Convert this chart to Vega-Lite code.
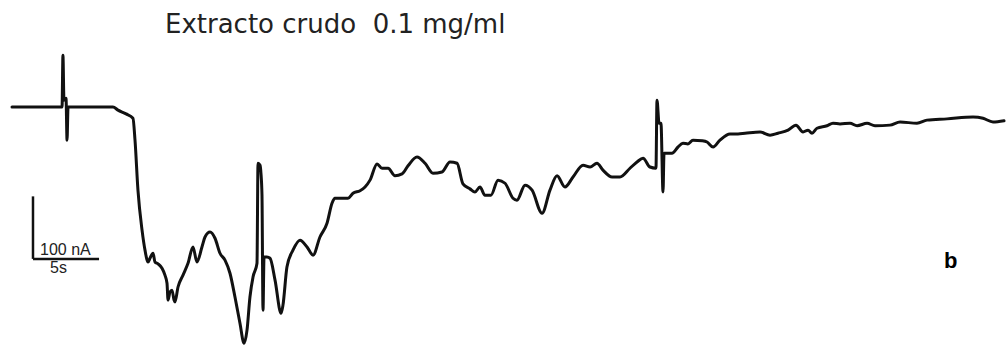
{
  "$schema": "https://vega.github.io/schema/vega-lite/v6.json",
  "width": 1006,
  "height": 347,
  "autosize": {"type": "fit", "contains": "padding"},
  "padding": 0,
  "background": "white",
  "config": {"view": {"stroke": null}},
  "datasets": {
    "trace": [
      {"t": 0, "i": 0}, {"t": 3.91, "i": 0}, {"t": 3.98, "i": 83}, {"t": 4.06, "i": 11}, {"t": 4.22, "i": 14},
      {"t": 4.3, "i": -53}, {"t": 4.38, "i": 0}, {"t": 7.89, "i": 0}, {"t": 8.28, "i": -5}, {"t": 8.91, "i": -11},
      {"t": 9.45, "i": -18}, {"t": 9.61, "i": -53}, {"t": 9.84, "i": -133}, {"t": 10.16, "i": -197}, {"t": 10.39, "i": -229},
      {"t": 10.63, "i": -248}, {"t": 10.78, "i": -242}, {"t": 11.02, "i": -234}, {"t": 11.17, "i": -248}, {"t": 11.41, "i": -251},
      {"t": 11.72, "i": -258}, {"t": 11.95, "i": -269}, {"t": 12.11, "i": -282}, {"t": 12.19, "i": -309}, {"t": 12.34, "i": -296},
      {"t": 12.5, "i": -293}, {"t": 12.66, "i": -309}, {"t": 12.73, "i": -312}, {"t": 12.97, "i": -288}, {"t": 13.36, "i": -269},
      {"t": 13.75, "i": -250}, {"t": 14.14, "i": -224}, {"t": 14.45, "i": -248}, {"t": 14.84, "i": -224}, {"t": 15.08, "i": -208},
      {"t": 15.47, "i": -200}, {"t": 15.86, "i": -210}, {"t": 16.25, "i": -234}, {"t": 16.64, "i": -245}, {"t": 17.03, "i": -266},
      {"t": 17.42, "i": -304}, {"t": 17.81, "i": -346}, {"t": 18.13, "i": -378}, {"t": 18.36, "i": -357}, {"t": 18.59, "i": -304},
      {"t": 18.83, "i": -272}, {"t": 19.14, "i": -250}, {"t": 19.22, "i": -90}, {"t": 19.38, "i": -93}, {"t": 19.45, "i": -106},
      {"t": 19.53, "i": -141}, {"t": 19.61, "i": -325}, {"t": 19.69, "i": -240}, {"t": 19.92, "i": -240}, {"t": 20.16, "i": -242},
      {"t": 20.55, "i": -277}, {"t": 21.02, "i": -330}, {"t": 21.17, "i": -317}, {"t": 21.48, "i": -256}, {"t": 21.95, "i": -229},
      {"t": 22.5, "i": -213}, {"t": 23.05, "i": -224}, {"t": 23.52, "i": -237}, {"t": 24.06, "i": -208}, {"t": 24.61, "i": -186},
      {"t": 25.0, "i": -154}, {"t": 25.23, "i": -146}, {"t": 25.78, "i": -146}, {"t": 26.25, "i": -146}, {"t": 26.64, "i": -138},
      {"t": 27.19, "i": -134}, {"t": 27.58, "i": -128}, {"t": 27.97, "i": -117}, {"t": 28.52, "i": -91}, {"t": 28.91, "i": -98},
      {"t": 29.38, "i": -98}, {"t": 29.92, "i": -110}, {"t": 30.47, "i": -107}, {"t": 30.94, "i": -94}, {"t": 31.64, "i": -80},
      {"t": 32.27, "i": -90}, {"t": 32.89, "i": -106}, {"t": 33.59, "i": -104}, {"t": 34.22, "i": -88}, {"t": 34.77, "i": -90},
      {"t": 35.23, "i": -123}, {"t": 35.78, "i": -131}, {"t": 36.17, "i": -136}, {"t": 36.56, "i": -128}, {"t": 36.95, "i": -141},
      {"t": 37.42, "i": -141}, {"t": 37.97, "i": -117}, {"t": 38.52, "i": -122}, {"t": 39.14, "i": -146}, {"t": 39.45, "i": -149},
      {"t": 40.08, "i": -125}, {"t": 40.63, "i": -133}, {"t": 41.41, "i": -170}, {"t": 42.03, "i": -133}, {"t": 42.58, "i": -110},
      {"t": 43.2, "i": -128}, {"t": 43.83, "i": -112}, {"t": 44.61, "i": -93}, {"t": 45.16, "i": -96}, {"t": 45.7, "i": -90},
      {"t": 46.17, "i": -101}, {"t": 46.88, "i": -112}, {"t": 47.5, "i": -112}, {"t": 48.28, "i": -98}, {"t": 48.83, "i": -88},
      {"t": 49.3, "i": -82}, {"t": 49.84, "i": -96}, {"t": 50.31, "i": -98}, {"t": 50.39, "i": 11}, {"t": 50.55, "i": -26},
      {"t": 50.7, "i": -26}, {"t": 50.86, "i": -136}, {"t": 50.94, "i": -74}, {"t": 51.56, "i": -74}, {"t": 52.03, "i": -64},
      {"t": 52.42, "i": -58}, {"t": 52.81, "i": -59}, {"t": 53.2, "i": -53}, {"t": 53.91, "i": -54}, {"t": 54.3, "i": -56},
      {"t": 54.77, "i": -64}, {"t": 55.31, "i": -53}, {"t": 56.09, "i": -43}, {"t": 56.72, "i": -43}, {"t": 57.27, "i": -42},
      {"t": 58.44, "i": -40}, {"t": 59.22, "i": -45}, {"t": 59.84, "i": -42}, {"t": 60.63, "i": -37}, {"t": 61.25, "i": -29},
      {"t": 61.8, "i": -40}, {"t": 62.19, "i": -37}, {"t": 62.5, "i": -42}, {"t": 62.89, "i": -34}, {"t": 63.67, "i": -30},
      {"t": 64.14, "i": -26}, {"t": 64.69, "i": -27}, {"t": 65.47, "i": -26}, {"t": 66.02, "i": -30}, {"t": 66.8, "i": -26},
      {"t": 67.42, "i": -30}, {"t": 68.59, "i": -29}, {"t": 69.38, "i": -24}, {"t": 70.7, "i": -26}, {"t": 71.48, "i": -21},
      {"t": 73.05, "i": -19}, {"t": 75.08, "i": -16}, {"t": 75.86, "i": -18}, {"t": 76.64, "i": -24}, {"t": 77.5, "i": -22}
    ],
    "scalebar": [
      {"t": 1.64, "t2": 1.64, "i": -143, "i2": -243},
      {"t": 1.64, "t2": 6.8, "i": -243, "i2": -243}
    ]
  },
  "encoding": {
    "x": {"field": "t", "type": "quantitative", "axis": null,
          "scale": {"domain": [-0.9375, 77.656], "nice": false, "zero": false}},
    "y": {"field": "i", "type": "quantitative", "axis": null,
          "scale": {"domain": [-384, 171.2], "nice": false, "zero": false}}
  },
  "layer": [
    {
      "data": {"name": "trace"},
      "mark": {"type": "line", "color": "#111111", "strokeWidth": 3, "strokeJoin": "round", "strokeCap": "round", "interpolate": "monotone"}
    },
    {
      "data": {"name": "scalebar"},
      "mark": {"type": "rule", "color": "#111111", "strokeWidth": 2.5},
      "encoding": {
        "x2": {"field": "t2"},
        "y2": {"field": "i2"}
      }
    },
    {
      "data": {"values": [{"t": 11.95, "i": 118, "label": "Extracto crudo\u00a0 0.1 mg/ml"}]},
      "mark": {"type": "text", "align": "left", "baseline": "alphabetic", "font": "DejaVu Sans", "fontSize": 26, "color": "#222222"},
      "encoding": {"text": {"field": "label"}}
    },
    {
      "data": {"values": [{"t": 2.19, "i": -236, "label": "100 nA"}, {"t": 2.97, "i": -265, "label": "5s"}]},
      "mark": {"type": "text", "align": "left", "baseline": "alphabetic", "font": "Liberation Sans", "fontSize": 16, "color": "#222222"},
      "encoding": {"text": {"field": "label"}}
    },
    {
      "data": {"values": [{"t": 72.81, "i": -257, "label": "b"}]},
      "mark": {"type": "text", "align": "left", "baseline": "alphabetic", "font": "Liberation Sans", "fontSize": 22, "fontWeight": "bold", "color": "#000000"},
      "encoding": {"text": {"field": "label"}}
    }
  ]
}
